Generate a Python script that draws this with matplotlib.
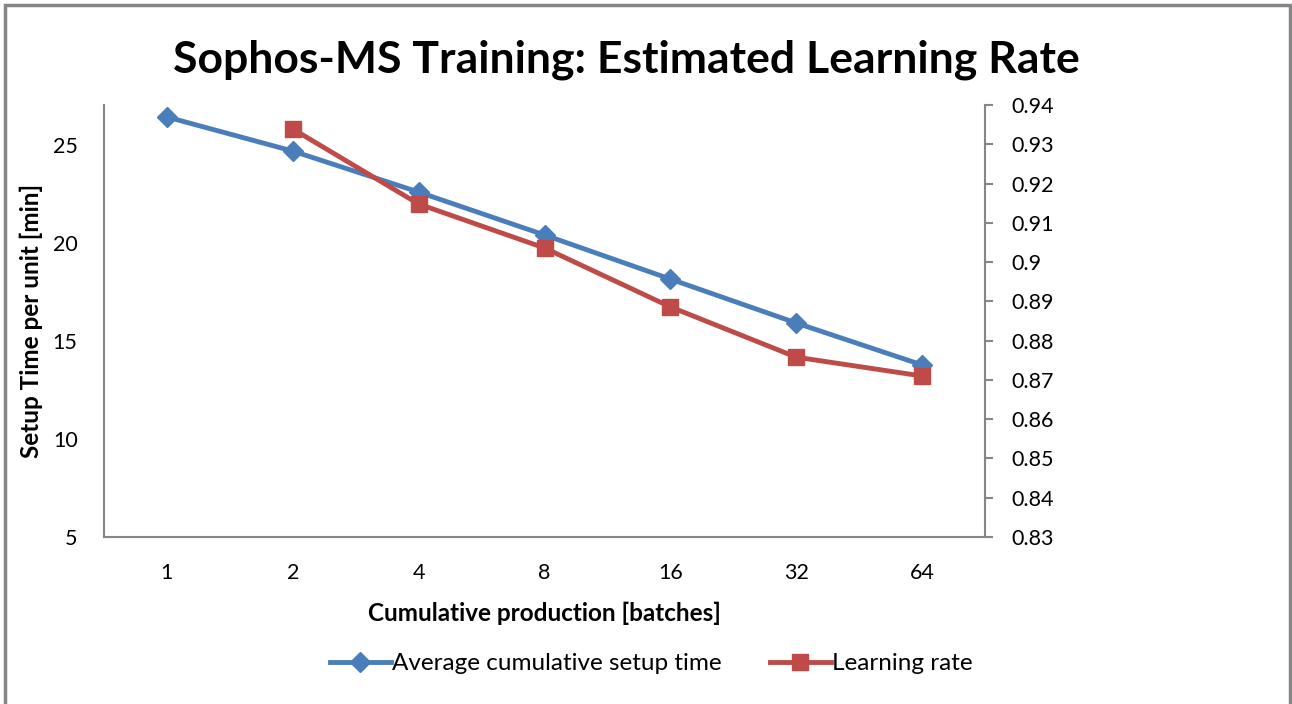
import numpy as np
import matplotlib.pyplot as plt
from matplotlib.patches import Rectangle

plt.rcParams['font.family'] = ['Lato', 'DejaVu Sans']

batches = ['1', '2', '4', '8', '16', '32', '64']
setup_time = [26.43, 24.69, 22.6, 20.41, 18.16, 15.92, 13.78]
learn_x = ['2', '4', '8', '16', '32', '64']
learn_rate = [0.9339, 0.9148, 0.9036, 0.8886, 0.8758, 0.8710]

blue = '#4A7EBB'
red = '#BE4B48'
grey = '#868686'

fig = plt.figure(figsize=(12.92, 7.04), dpi=100)
ax = fig.add_axes([0.0805, 0.2372, 0.6819, 0.6136])
ax2 = ax.twinx()

xs = np.arange(len(batches))
ax.plot(xs, setup_time, color=blue, lw=3.5, marker='D', ms=10,
        label='Average cumulative setup time', zorder=3)
lx = [batches.index(b) for b in learn_x]
ax2.plot(lx, learn_rate, color=red, lw=3.5, marker='s', ms=12,
         label='Learning rate', zorder=3)

ax.set_xlim(-0.5, len(batches) - 0.5)
ax.set_ylim(5, 27.04)
ax.set_yticks([5, 10, 15, 20, 25])
ax.set_xticks(xs)
ax.set_xticklabels(batches)
ax2.set_ylim(0.83, 0.94)
rt = np.round(np.arange(0.83, 0.9401, 0.01), 2)
ax2.set_yticks(rt)
ax2.set_yticklabels([f'{v:g}' for v in rt])

for a in (ax, ax2):
    for s in a.spines.values():
        s.set_visible(False)
ax.spines['left'].set_visible(True)
ax.spines['bottom'].set_visible(True)
ax.spines['left'].set_color(grey)
ax.spines['bottom'].set_color(grey)
ax.spines['left'].set_linewidth(1.5)
ax.spines['bottom'].set_linewidth(1.5)
ax2.spines['right'].set_visible(True)
ax2.spines['right'].set_color(grey)
ax2.spines['right'].set_linewidth(1.5)

ax.tick_params(axis='y', length=0, labelsize=15.5, pad=19)
ax.tick_params(axis='x', length=0, labelsize=15.5, pad=19)
ax2.tick_params(axis='y', length=6, width=1.5, color=grey, labelsize=15.5, pad=13)

ax.set_ylabel('Setup Time per unit [min]', fontsize=17.5, fontweight='bold', labelpad=7)
ax.set_xlabel('Cumulative production [batches]', fontsize=17.5, fontweight='bold', labelpad=13)
fig.text(0.4845, 0.915, 'Sophos-MS Training: Estimated Learning Rate',
         ha='center', va='center', fontsize=32, fontweight='bold')

h1, l1 = ax.get_legend_handles_labels()
h2, l2 = ax2.get_legend_handles_labels()
fig.legend(h1 + h2, l1 + l2, loc='center', bbox_to_anchor=(0.504, 0.057),
           ncol=2, frameon=False, fontsize=17.5, handlelength=2.5,
           handletextpad=0.05, columnspacing=2.0)

fig.patches.append(Rectangle((5 / 1292, -0.05), 1285 / 1292, 1.05 - 5 / 704,
                             transform=fig.transFigure, fill=False,
                             edgecolor=grey, lw=2.5))

fig.savefig('out.png', dpi=100)
